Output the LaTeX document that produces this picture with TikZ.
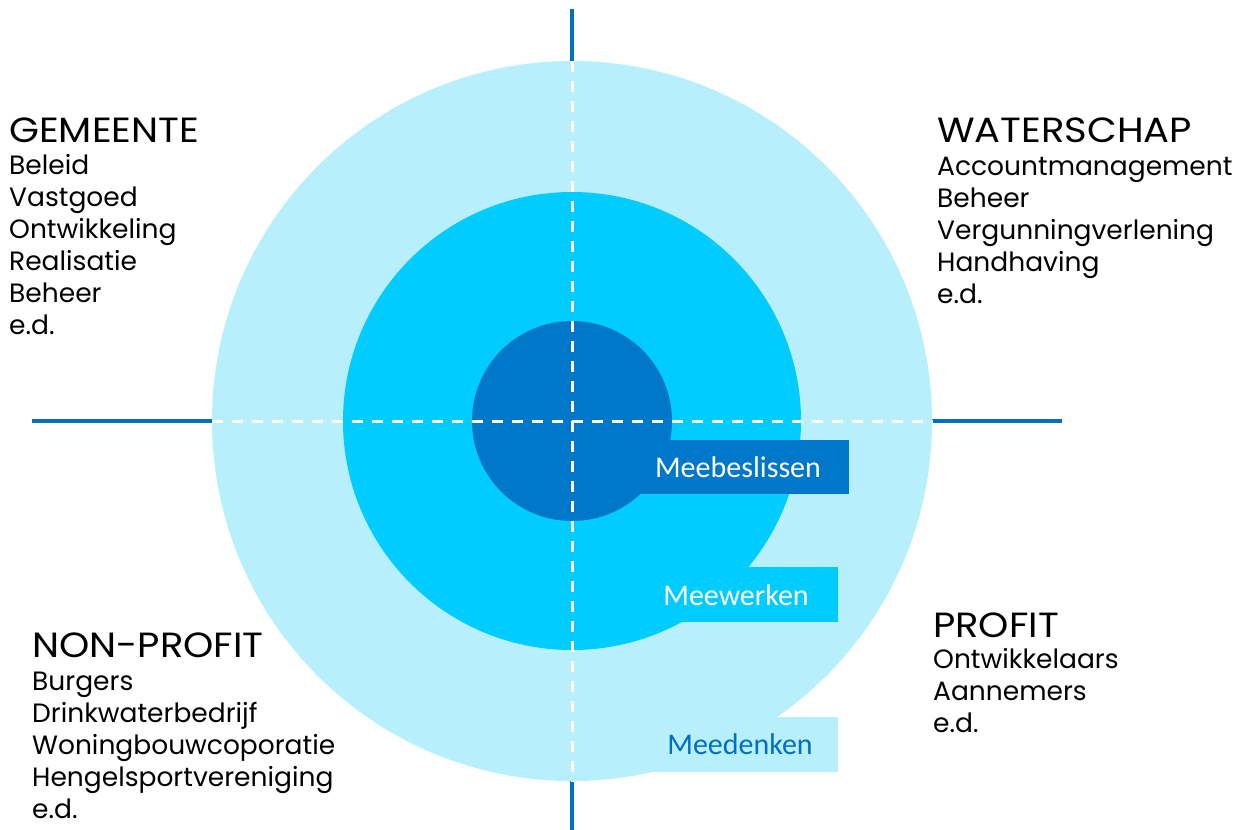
\documentclass[tikz,border=0pt]{standalone}
\usepackage{fontspec}
\setmainfont{Poppins}
\newfontfamily\headfont[FakeStretch=1.1]{Poppins}
\newfontfamily\labelfont{Carlito}
\definecolor{ringout}{RGB}{183,239,253}
\definecolor{ringmid}{RGB}{0,204,255}
\definecolor{ringin}{RGB}{0,119,200}
\definecolor{axisblue}{RGB}{0,112,192}
\begin{document}
\begin{tikzpicture}[x=1pt,y=-1pt,
  ring/.style={circle,inner sep=0pt,minimum size=#1},
  axis/.style={line width=4.5pt,draw=axisblue},
  guide/.style={line width=3pt,draw=white,dash pattern=on 11pt off 9pt},
  head/.style={anchor=base west,inner sep=0pt,font=\headfont\fontsize{35}{36}\selectfont},
  items/.style={anchor=base west,align=left,inner sep=0pt,font=\fontsize{26.5}{32}\selectfont},
  band/.style={anchor=base,inner sep=0pt,font=\labelfont\fontsize{30}{32}\selectfont}]
\useasboundingbox (0,0) rectangle (1240,830);
\coordinate (c) at (572,421);
% rings with their tabs
\node[ring=720pt,fill=ringout] (outer) at (c) {};
\fill[ringout] (640,717) rectangle (838,772);
\node[ring=458pt,fill=ringmid] (mid) at (c) {};
\fill[ringmid] (680,567) rectangle (838,622);
\node[ring=200pt,fill=ringin] (inner) at (c) {};
\fill[ringin] (630,440) rectangle (849,494);

% axes
\coordinate (top) at (572,9);
\coordinate (bot) at (572,830);
\coordinate (west) at (32,421);
\coordinate (east) at (1062,421);
\draw[axis] (top) -- (outer.north);
\draw[axis] (outer.south) -- (bot);
\draw[axis] (west) -- (outer.west);
\draw[axis] (outer.east) -- (east);
\draw[guide] (outer.north) -- (outer.south);
\draw[guide] (outer.west) -- (outer.east);

\node[band,text=white] (beslis) at (738,477) {Meebeslissen};
\node[band,text=white] (werk) at (736,605) {Meewerken};
\node[band,text=axisblue] (denk) at (740,754) {Meedenken};

% quadrants (lists placed at the baseline of their last line)
\node[head] (gem) at (9,142) {GEMEENTE};
\node[items] (gemlist) at (9,334) {Beleid\\Vastgoed\\Ontwikkeling\\Realisatie\\Beheer\\e.d.};
\node[head] (wat) at (937,142) {WATERSCHAP};
\node[items] (watlist) at (937,303) {Accountmanagement\\Beheer\\Vergunningverlening\\Handhaving\\e.d.};
\node[head] (non) at (32,657) {NON-PROFIT};
\node[items] (nonlist) at (32,818) {Burgers\\Drinkwaterbedrijf\\Woningbouwcoporatie\\Hengelsportvereniging\\e.d.};
\node[head] (pro) at (933,637) {PROFIT};
\node[items] (prolist) at (933,732) {Ontwikkelaars\\Aannemers\\e.d.};
\end{tikzpicture}
\end{document}
